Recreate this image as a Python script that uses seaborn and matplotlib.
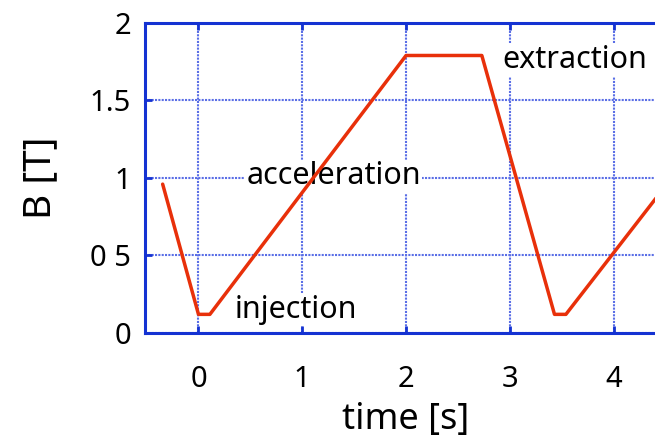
import matplotlib
matplotlib.use("Agg")
import matplotlib.pyplot as plt
import seaborn as sns
import pandas as pd

# data
time_s = [-0.345, 0.0, 0.11, 2.0, 2.73, 3.43, 3.54, 4.42]
field_T = [0.96, 0.12, 0.12, 1.79, 1.79, 0.12, 0.12, 0.88]
x_ticks = [0, 1, 2, 3, 4]
x_tick_labels = ["0", "1", "2", "3", "4"]
y_ticks = [0, 0.5, 1, 1.5, 2]
y_tick_labels = ["0", "0 5", "1", "1.5", "2"]
annotations = ["injection", "acceleration", "extraction"]
ann_x = [0.35, 0.46, 2.93]
ann_y = [0.15, 1.01, 1.76]

sns.set_theme(style="white")
plt.rcParams['font.family'] = ['Noto Sans', 'DejaVu Sans']

BLUE = "#1432d2"
GRID = "#5a6ee6"
RED = "#e8300a"

fig = plt.figure(figsize=(6.55, 4.41), dpi=100)
ax = fig.add_axes([0.2214, 0.245, 0.7947, 0.703])

df = pd.DataFrame({"time": time_s, "B": field_T})
sns.lineplot(data=df, x="time", y="B", ax=ax, color=RED, linewidth=2.5,
             sort=False, estimator=None, zorder=3)

ax.set_xlim(-0.515, 4.5)
ax.set_ylim(0, 2)
ax.set_xticks(x_ticks)
ax.set_xticklabels(x_tick_labels)
ax.set_yticks(y_ticks)
ax.set_yticklabels(y_tick_labels)

ax.grid(True, color=GRID, linestyle=(0, (1, 0.6)), linewidth=1.5, zorder=0)
for s in ax.spines.values():
    s.set_color(BLUE)
    s.set_linewidth(2.2)

ax.tick_params(axis="both", which="both", direction="in", length=5, width=2,
               color=BLUE, labelsize=21, labelcolor="black",
               top=True, bottom=True, left=True, right=True,
               labeltop=False, labelright=False)
ax.tick_params(axis="x", pad=23)
ax.tick_params(axis="y", pad=10)

ax.set_xlabel("time [s]", fontsize=26, color="black", labelpad=6)
ax.set_ylabel("B [T]", fontsize=28, color="black", labelpad=22)

for t, x, y in zip(annotations, ann_x, ann_y):
    ax.text(x, y, t, fontsize=22, color="black", va="center", ha="left",
            zorder=2, bbox=dict(facecolor="white", edgecolor="none", pad=1))

fig.savefig("out.png", dpi=100)
